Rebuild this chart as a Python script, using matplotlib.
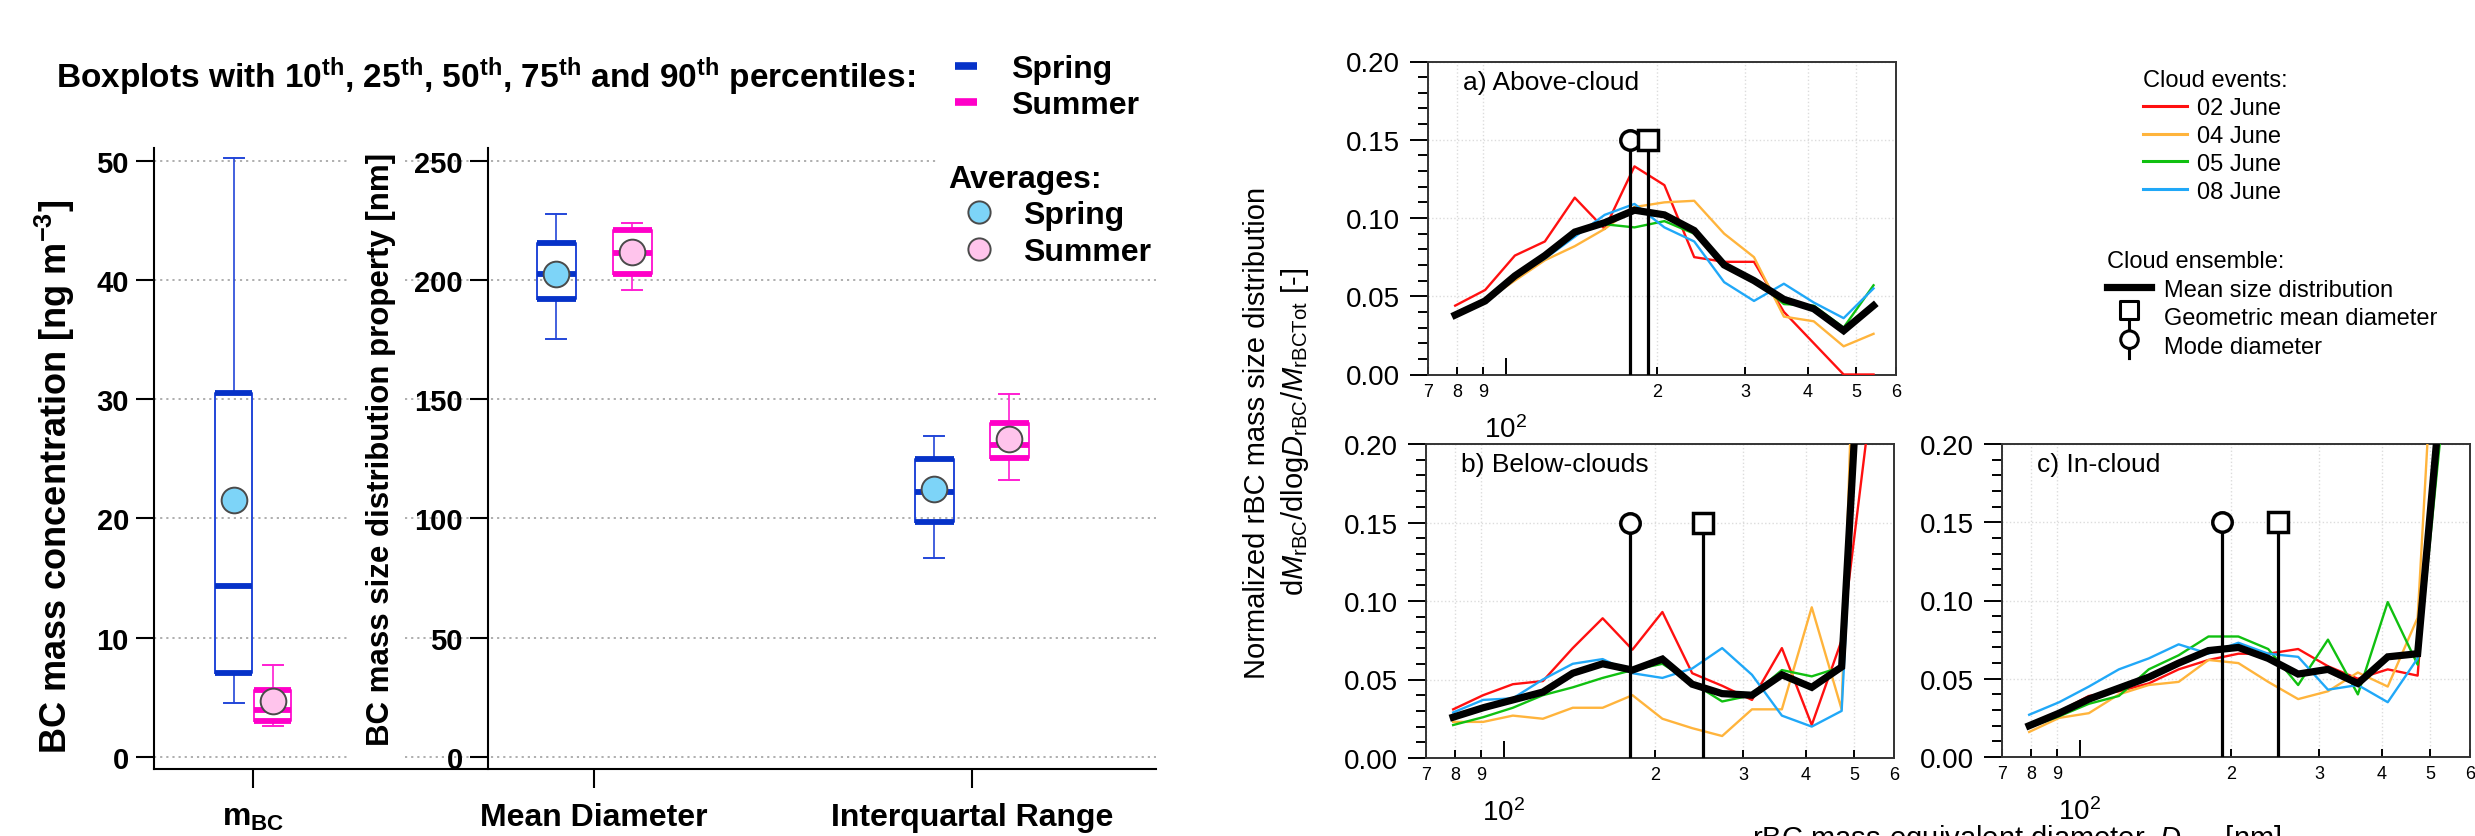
import numpy as np
import matplotlib
matplotlib.use('Agg')
import matplotlib.pyplot as plt
from matplotlib.lines import Line2D
from matplotlib.path import Path

plt.rcParams['font.family'] = ['Liberation Sans', 'DejaVu Sans']
plt.rcParams['mathtext.fontset'] = 'custom'
plt.rcParams['mathtext.rm'] = 'Liberation Sans'
plt.rcParams['mathtext.it'] = 'Liberation Sans:italic'
plt.rcParams['mathtext.bf'] = 'Liberation Sans:bold'

# ---------------- left chart: percentiles (10, 25, 50, 75, 90) and means
variables = [r'm$_{\mathbf{BC}}$', 'Mean Diameter', 'Interquartal Range']
spring_p10 = [4.5, 175.3, 83.2]
spring_p25 = [7.0, 192.1, 98.6]
spring_p50 = [14.3, 202.4, 111.1]
spring_p75 = [30.5, 215.4, 124.8]
spring_p90 = [50.2, 227.5, 134.6]
spring_mean = [21.5, 202.3, 112.5]
summer_p10 = [2.6, 195.8, 116.1]
summer_p25 = [3.0, 202.4, 125.5]
summer_p50 = [3.9, 211.2, 130.6]
summer_p75 = [5.6, 221.0, 140.0]
summer_p90 = [7.7, 223.8, 152.2]
summer_mean = [4.7, 211.8, 133.4]

# ---------------- right chart: normalized size distributions
diam = [79.3, 91.0, 104.3, 119.7, 137.3, 157.5, 180.6, 207.2, 237.6, 272.6,
        312.6, 358.6, 411.3, 471.8, 541.2]
events = ['02 June', '04 June', '05 June', '08 June']

above = {
    '02 June': [0.044, 0.054, 0.076, 0.085, 0.113, 0.093, 0.133, 0.121, 0.075, 0.072, 0.072, 0.040, 0.020, 0.0, 0.0],
    '04 June': [0.037, 0.047, 0.060, 0.073, 0.082, 0.093, 0.107, 0.110, 0.111, 0.090, 0.075, 0.037, 0.034, 0.018, 0.026],
    '05 June': [0.038, 0.047, 0.063, 0.075, 0.091, 0.096, 0.094, 0.098, 0.090, 0.070, 0.061, 0.045, 0.044, 0.030, 0.057],
    '08 June': [0.038, 0.047, 0.063, 0.074, 0.088, 0.102, 0.109, 0.094, 0.085, 0.059, 0.047, 0.058, 0.046, 0.036, 0.055],
}
above_mean = [0.038, 0.047, 0.063, 0.076, 0.091, 0.097, 0.105, 0.102, 0.092, 0.070, 0.060, 0.048, 0.042, 0.028, 0.044]

below = {
    '02 June': [0.031, 0.040, 0.047, 0.049, 0.070, 0.089, 0.069, 0.093, 0.054, 0.046, 0.037, 0.070, 0.021, 0.075, 0.23],
    '04 June': [0.023, 0.023, 0.027, 0.025, 0.032, 0.032, 0.040, 0.025, 0.019, 0.014, 0.031, 0.031, 0.096, 0.031, 0.63],
    '05 June': [0.021, 0.026, 0.032, 0.040, 0.045, 0.051, 0.056, 0.060, 0.048, 0.036, 0.040, 0.056, 0.052, 0.058, 0.40],
    '08 June': [0.029, 0.037, 0.038, 0.050, 0.060, 0.063, 0.054, 0.051, 0.057, 0.070, 0.053, 0.027, 0.020, 0.030, 0.40],
}
below_mean = [0.026, 0.032, 0.037, 0.042, 0.054, 0.060, 0.056, 0.063, 0.047, 0.041, 0.040, 0.053, 0.045, 0.058, 0.40]

incloud = {
    '02 June': [0.021, 0.029, 0.039, 0.042, 0.047, 0.056, 0.062, 0.066, 0.066, 0.069, 0.058, 0.050, 0.056, 0.052, 0.30],
    '04 June': [0.016, 0.025, 0.028, 0.040, 0.046, 0.048, 0.062, 0.060, 0.048, 0.037, 0.042, 0.054, 0.045, 0.089, 0.43],
    '05 June': [0.019, 0.026, 0.034, 0.039, 0.056, 0.065, 0.077, 0.077, 0.069, 0.046, 0.075, 0.040, 0.099, 0.059, 0.25],
    '08 June': [0.027, 0.035, 0.045, 0.056, 0.063, 0.072, 0.066, 0.073, 0.066, 0.064, 0.043, 0.046, 0.035, 0.063, 0.27],
}
incloud_mean = [0.020, 0.028, 0.037, 0.044, 0.051, 0.060, 0.068, 0.070, 0.063, 0.053, 0.056, 0.047, 0.064, 0.066, 0.28]

panel_titles = ['a) Above-cloud', 'b) Below-clouds', 'c) In-cloud']
mode_diam = [176.7, 178.6, 191.9]
gmd_diam = [192.4, 250.0, 248.0]
marker_level = 0.15

event_colors = {'02 June': '#ff1010', '04 June': '#ffb43c', '05 June': '#10c010', '08 June': '#20a8f8'}

SPRING = '#2346d8'
SPRING_DK = '#0632c8'
SUMMER = '#ff1ed2'
SUMMER_DK = '#ff00c8'

W, H = 2475, 837
fig = plt.figure(figsize=(W / 100, H / 100), dpi=100)


def fbox(x0, y0, x1, y1):
    # pixel box (top-left origin) -> figure fraction rect
    return [x0 / W, 1 - y1 / H, (x1 - x0) / W, (y1 - y0) / H]


# ================= left chart =================
L0, L1 = 154, 1156
ax1 = fig.add_axes(fbox(L0, 149, L1, 770))
ax2 = fig.add_axes(fbox(L0, 149, L1, 770), sharex=ax1)
ax2.patch.set_alpha(0)
ax1.set_xlim(0, L1 - L0)
ax1.set_ylim(-1.03, 51.07)
ax2.set_ylim(-5.15, 255.35)

centers = np.array([99, 440, 818])
offsets = np.array([19.5, 38, 37.5])
widths = np.array([37, 39, 39])

for ax in (ax1, ax2):
    for s in ('top', 'right'):
        ax.spines[s].set_visible(False)
ax2.spines['bottom'].set_visible(False)
ax2.spines['left'].set_position(('axes', (488 - L0) / (L1 - L0)))
for ax in (ax1, ax2):
    ax.spines['left'].set_linewidth(1.5)
    ax.tick_params(axis='y', direction='out', length=13, width=1.5, pad=5,
                   labelsize=21)
ax1.spines['bottom'].set_linewidth(1.5)
ax2.tick_params(axis='x', bottom=False, labelbottom=False)

ax1.set_yticks(range(0, 51, 10))
ax2.set_yticks(range(0, 251, 50))
for ax in (ax1, ax2):
    for lab in ax.get_yticklabels():
        lab.set_fontweight('bold')

grid_kw = dict(color='#a8a8a8', ls=(0, (1.2, 2.2)), lw=1.3, zorder=0)
for y in range(0, 51, 10):
    ax1.axhline(y, xmin=0, xmax=(349 - L0) / (L1 - L0), **grid_kw)
for y in range(0, 251, 50):
    right_end = 937 if y == 250 else L1
    ax2.axhline(y, xmin=(405 - L0) / (L1 - L0),
                xmax=(right_end - L0) / (L1 - L0), **grid_kw)

ax1.set_xticks(centers)
ax1.set_xticklabels(variables)
ax1.tick_params(axis='x', direction='out', length=14, width=1.5, pad=10,
                labelsize=23)
for lab in ax1.get_xticklabels():
    lab.set_fontweight('bold')


def draw_boxes(ax, idx, p10, p25, p50, p75, p90, mean, col, dark, face, sign):
    stats = []
    pos = []
    wid = []
    for i in idx:
        stats.append(dict(whislo=p10[i], q1=p25[i], med=p50[i], q3=p75[i],
                          whishi=p90[i], mean=mean[i], fliers=[]))
        pos.append(centers[i] + sign * offsets[i])
        wid.append(widths[i])
    ax.bxp(stats, pos, widths=wid, showmeans=True, manage_ticks=False,
           capwidths=20,
           boxprops=dict(color=col, lw=1.4),
           whiskerprops=dict(color=col, lw=1.2),
           capprops=dict(color=col, lw=1.4),
           medianprops=dict(color=dark, lw=4.2, solid_capstyle='butt'),
           meanprops=dict(marker='o', markersize=18.5, markerfacecolor=face,
                          markeredgecolor='#4a4a4a', markeredgewidth=1.4,
                          zorder=5))
    for i, p, w in zip(idx, pos, wid):
        ax.hlines([p25[i], p75[i]], p - w / 2, p + w / 2, color=dark, lw=4.2,
                  zorder=3)


draw_boxes(ax1, [0], spring_p10, spring_p25, spring_p50, spring_p75, spring_p90,
           spring_mean, SPRING, SPRING_DK, '#7dd4f8', -1)
draw_boxes(ax1, [0], summer_p10, summer_p25, summer_p50, summer_p75, summer_p90,
           summer_mean, SUMMER, SUMMER_DK, '#ffc4ec', 1)
draw_boxes(ax2, [1, 2], spring_p10, spring_p25, spring_p50, spring_p75, spring_p90,
           spring_mean, SPRING, SPRING_DK, '#7dd4f8', -1)
draw_boxes(ax2, [1, 2], summer_p10, summer_p25, summer_p50, summer_p75, summer_p90,
           summer_mean, SUMMER, SUMMER_DK, '#ffc4ec', 1)

fig.text(55 / W, 1 - 477 / H, r'BC mass concentration [ng m$^{\mathbf{-3}}$]',
         rotation=90, ha='center', va='center', fontsize=26, fontweight='bold')
fig.text(381 / W, 1 - 449 / H, 'BC mass size distribution property [nm]',
         rotation=90, ha='center', va='center', fontsize=22.5, fontweight='bold')

fig.text(915 / W, 1 - 88 / H,
         r'Boxplots with 10$^{\mathbf{th}}$, 25$^{\mathbf{th}}$, 50$^{\mathbf{th}}$, '
         r'75$^{\mathbf{th}}$ and 90$^{\mathbf{th}}$ percentiles:',
         ha='right', va='baseline', fontsize=24, fontweight='bold')

season_handles = [Line2D([], [], color=SPRING_DK, lw=5.5, solid_capstyle='butt'),
                  Line2D([], [], color=SUMMER_DK, lw=5.5, solid_capstyle='butt')]
fig.legend(season_handles, ['Spring', 'Summer'], loc='upper left',
           bbox_to_anchor=(955 / W, 1 - 55 / H), frameon=False,
           handlelength=0.7, handletextpad=1.05, labelspacing=0.2,
           borderpad=0, borderaxespad=0,
           prop=dict(weight='bold', size=23))

avg_handles = [Line2D([], [], ls='none', marker='o', ms=16, mfc='#7dd4f8',
                      mec='#4a4a4a', mew=1.4),
               Line2D([], [], ls='none', marker='o', ms=16, mfc='#ffc4ec',
                      mec='#4a4a4a', mew=1.4)]
fig.legend(avg_handles, ['Spring', 'Summer'], loc='upper left',
           bbox_to_anchor=(948 / W, 1 - 165 / H), frameon=False,
           title='Averages:', alignment='left', numpoints=1,
           handlelength=1.94, handletextpad=0.4, labelspacing=0.2,
           borderpad=0, borderaxespad=0,
           prop=dict(weight='bold', size=23),
           title_fontproperties=dict(weight='bold', size=23))

# ================= right chart =================
panel_boxes = [(1428, 62.5, 1896, 375.5), (1426, 445, 1894, 759),
               (2002, 445, 2470, 758)]
panel_data = [above, below, incloud]
panel_mean = [above_mean, below_mean, incloud_mean]

sq = Path([(-0.6, -0.2), (0.6, -0.2), (0.6, 1.0), (-0.6, 1.0), (-0.6, -0.2),
           (0, -0.2), (0, -1.0)],
          [Path.MOVETO, Path.LINETO, Path.LINETO, Path.LINETO, Path.CLOSEPOLY,
           Path.MOVETO, Path.LINETO])
circ = Path.make_compound_path(
    Path.circle((0, 0.4), 0.6),
    Path([(0, -0.2), (0, -1.0)], [Path.MOVETO, Path.LINETO]))

for k, box in enumerate(panel_boxes):
    ax = fig.add_axes(fbox(*box))
    ax.set_xscale('log')
    for ev in events:
        ax.plot(diam, panel_data[k][ev], color=event_colors[ev], lw=1.7,
                zorder=3)
    ax.plot(diam, panel_mean[k], color='black', lw=5.2, zorder=4,
            solid_joinstyle='miter')
    ax.vlines([mode_diam[k], gmd_diam[k]], 0, marker_level, color='black',
              lw=2.3, zorder=5)
    ax.plot([mode_diam[k]], [marker_level], ls='none', marker='o', ms=14,
            mfc='white', mec='black', mew=2.5, zorder=6)
    ax.plot([gmd_diam[k]], [marker_level], ls='none', marker='s', ms=14,
            mfc='white', mec='black', mew=2.5, zorder=7)
    ax.set_xlim(70, 600)
    ax.set_ylim(0, 0.2)

    ax.set_xticks([100])
    ax.set_xticklabels([r'$10^{2}$'])
    ax.set_xticks([70, 80, 90, 200, 300, 400, 500, 600], minor=True)
    ax.set_xticklabels(['7', '8', '9', '2', '3', '4', '5', '6'], minor=True)
    ax.tick_params(axis='x', which='major', direction='in', length=12,
                   width=1.4, pad=29, labelsize=20)
    ax.tick_params(axis='x', which='minor', direction='in', length=5.5,
                   width=1.4, pad=6, labelsize=13)
    ax.set_yticks([0, 0.05, 0.10, 0.15, 0.20])
    ax.set_yticklabels(['0.00', '0.05', '0.10', '0.15', '0.20'])
    ax.set_yticks(np.arange(0, 0.2001, 0.01), minor=True)
    ax.tick_params(axis='y', which='major', direction='out', length=13,
                   width=1.4, pad=7, labelsize=20)
    ax.tick_params(axis='y', which='minor', direction='out', length=7,
                   width=1.4)
    ax.grid(True, which='minor', axis='x', color='#dcdcdc', ls=':', lw=1)
    ax.grid(True, which='major', axis='y', color='#dcdcdc', ls=':', lw=1)
    for s in ax.spines.values():
        s.set_linewidth(1.4)
        s.set_color('#333333')
    ax.text(0.075, 0.935, panel_titles[k], transform=ax.transAxes,
            ha='left', va='center', fontsize=19)

fig.text(1257 / W, 1 - 433 / H, 'Normalized rBC mass size distribution',
         rotation=90, ha='center', va='center', fontsize=21)
fig.text(1295 / W, 1 - 432 / H,
         r'd$M_{\mathrm{rBC}}$/dlog$D_{\mathrm{rBC}}$/$M_{\mathrm{rBCTot}}$ [-]',
         rotation=90, ha='center', va='center', fontsize=21)
fig.text(2017 / W, 1 - 847 / H,
         r'rBC mass-equivalent diameter, $D_{\mathrm{rBC}}$ [nm]',
         ha='center', va='baseline', fontsize=21)

ev_handles = [Line2D([], [], color=event_colors[ev], lw=2.2) for ev in events]
fig.legend(ev_handles, events, loc='upper left',
           bbox_to_anchor=(2143 / W, 1 - 70 / H), frameon=False,
           title='Cloud events:', alignment='left',
           handlelength=1.85, handletextpad=0.45, labelspacing=0.25,
           borderpad=0, borderaxespad=0, prop=dict(size=17),
           title_fontproperties=dict(size=17))

ens_handles = [Line2D([], [], color='black', lw=5.2),
               Line2D([], [], ls='none', marker=sq, ms=21, mfc='white',
                      mec='black', mew=2.2),
               Line2D([], [], ls='none', marker=circ, ms=21, mfc='white',
                      mec='black', mew=2.2)]
fig.legend(ens_handles, ['Mean size distribution', 'Geometric mean diameter',
                         'Mode diameter'], loc='upper left',
           bbox_to_anchor=(2107 / W, 1 - 251 / H), frameon=False,
           title='Cloud ensemble:', alignment='left', numpoints=1,
           handlelength=1.85, handletextpad=0.55, labelspacing=0.28,
           borderpad=0, borderaxespad=0, prop=dict(size=17),
           title_fontproperties=dict(size=17))

fig.savefig('out.png', dpi=100)
